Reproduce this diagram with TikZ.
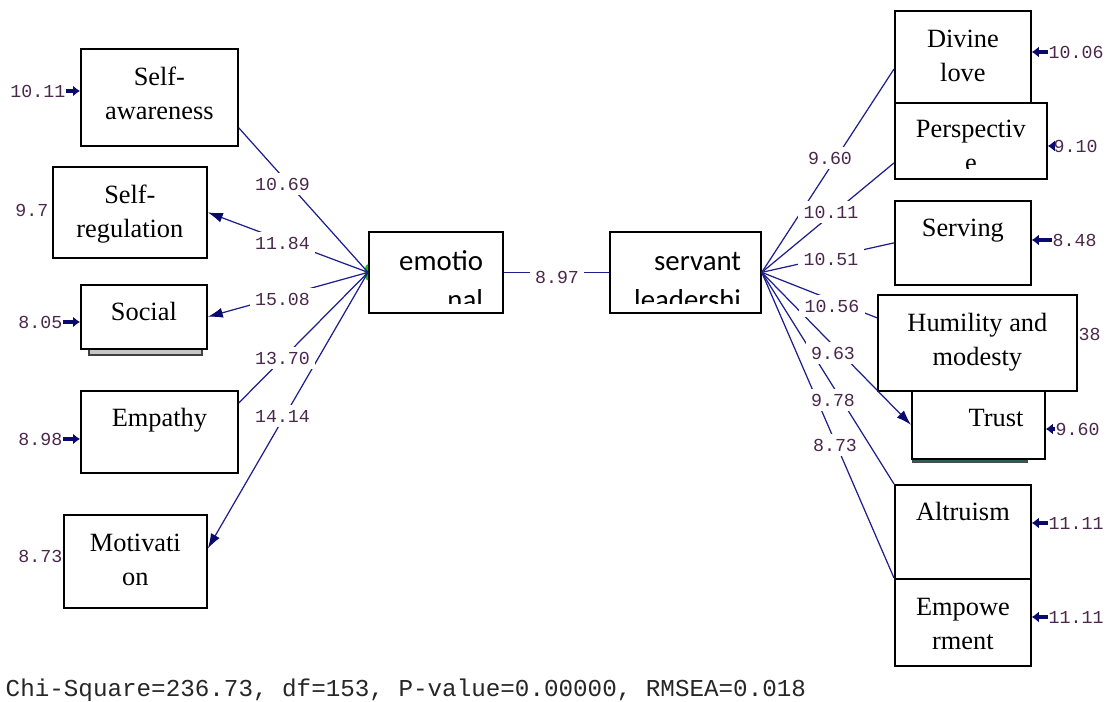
\documentclass[tikz,border=0pt]{standalone}
\usepackage{fontspec}
\setmainfont{Liberation Serif}
\setmonofont{Liberation Mono}
\newfontfamily\calfont{Carlito}
\usetikzlibrary{arrows.meta,calc,positioning}
\definecolor{pathblue}{RGB}{30,30,140}
\definecolor{tipblue}{RGB}{10,10,110}
\definecolor{valcol}{RGB}{75,40,75}
\definecolor{trustshadow}{RGB}{40,100,100}
\tikzset{
 obs/.style={draw,line width=.5pt,fill=white,rectangle,inner sep=0pt,anchor=north west},
 txt/.style={font=\fontsize{7.5pt}{9.8pt}\selectfont,align=center,inner sep=0pt,anchor=base},
 lat/.style={font=\calfont\fontsize{8.2pt}{11.2pt}\selectfont,align=right,inner sep=0pt,anchor=base east},
 val/.style={font=\ttfamily\fontsize{5.2pt}{6pt}\selectfont,text=valcol,fill=white,inner sep=1.5pt},
 evar/.style={font=\ttfamily\fontsize{5.2pt}{6pt}\selectfont,text=valcol,inner sep=0pt},
 load/.style={draw=pathblue,line width=.35pt},
 loadarr/.style={load,-{Latex[length=1.5mm,width=1mm,color=tipblue]}},
 err/.style={draw=tipblue,line width=.9pt,-{Latex[length=.7mm,width=1.1mm]}}
}
\begin{document}
\begin{tikzpicture}
\useasboundingbox(0,0)rectangle(11.11,7.02);
%shadows
\draw[fill=gray!45,draw=darkgray](0.89,3.54)rectangle(2.02,3.47);
\draw[fill=trustshadow,draw=black!70](9.13,2.44)rectangle(10.27,2.40);
%left indicators
\node[obs,minimum width=1.57cm,minimum height=.97cm](sa)at(0.80,6.54){};
\node[txt](sa-t)at($(sa.north)+(0,-.715)$){Self-\\awareness};
\node[obs,minimum width=1.54cm,minimum height=.91cm](sr)at(0.52,5.36){};
\node[txt](sr-t)at($(sr.north)+(0,-.715)$){Self-\\regulation};
\node[obs,minimum width=1.26cm,minimum height=.64cm](so)at(0.80,4.18){};
\node[txt](so-t)at($(so.north)+(0,-.37)$){Social};
\node[obs,minimum width=1.57cm,minimum height=.82cm](em)at(0.80,3.12){};
\node[txt](em-t)at($(em.north)+(0,-.37)$){Empathy};
\node[obs,minimum width=1.43cm,minimum height=.93cm](mo)at(0.63,1.88){};
\node[txt](mo-t)at($(mo.north)+(0,-.715)$){Motivati\\on};
%latent variables
\node[obs,minimum width=1.34cm,minimum height=.81cm](emo)at(3.68,4.71){};
\begin{scope}
\clip(emo.north west)rectangle($(emo.south east)+(0,.10)$);
\node[lat](emo-t)at($(emo.north east)+(-.20,-.785)$){emotio\\nal};
\end{scope}
\fill[green!80!black](emo.west)++(0,.08)arc(90:270:.035 and .08)--cycle;
\node[obs,minimum width=1.51cm,minimum height=.81cm](sl)at(6.09,4.71){};
\begin{scope}
\clip(sl.north west)rectangle($(sl.south east)+(0,.10)$);
\node[lat](sl-t)at($(sl.north east)+(-.20,-.785)$){servant\\leadershi};
\end{scope}
%right indicators
\node[obs,minimum width=1.36cm,minimum height=.92cm](dl)at(8.94,6.92){};
\node[txt](dl-t)at($(dl.north)+(0,-.715)$){Divine\\love};
\node[obs,minimum width=1.52cm,minimum height=.76cm](pe)at(8.94,6.00){};
\begin{scope}
\clip(pe.north west)rectangle($(pe.south east)+(0,.11)$);
\node[txt](pe-t)at($(pe.north)+(0,-.70)$){Perspectiv\\e};
\end{scope}
\node[obs,minimum width=1.36cm,minimum height=.84cm](sv)at(8.94,5.02){};
\node[txt](sv-t)at($(sv.north)+(0,-.37)$){Serving};
\node[obs,minimum width=1.99cm,minimum height=.96cm](hm)at(8.77,4.08){};
\node[txt](hm-t)at($(hm.north)+(0,-.715)$){Humility and\\modesty};
\node[obs,minimum width=1.33cm,minimum height=.68cm](tr)at(9.11,3.12){};
\node[txt](tr-t)at(9.96,2.75){Trust};
\node[obs,minimum width=1.36cm,minimum height=.94cm](al)at(8.94,2.18){};
\node[txt](al-t)at($(al.north)+(0,-.37)$){Altruism};
\node[obs,minimum width=1.36cm,minimum height=.87cm](ep)at(8.94,1.24){};
\node[txt](ep-t)at($(ep.north)+(0,-.715)$){Empowe\\rment};
%loadings
\draw[load](emo.west)--(sa.-21);
\draw[loadarr](emo.west)--(sr.east);
\draw[loadarr](emo.west)--(so.east);
\draw[load](emo.west)--(em.20);
\draw[loadarr](emo.west)--(mo.10);
\draw[load](emo.east)--(sl.west);
\draw[load](sl.east)--(dl.190);
\draw[load](sl.east)--(pe.196);
\draw[load](sl.east)--(sv.west);
\draw[load](sl.east)--(hm.166);
\draw[loadarr](sl.east)--(tr.west);
\draw[load](sl.east)--(al.north west);
\draw[load](sl.east)--(ep.north west);
%values
\node[val](v-sa)at(2.825,5.18){10.69};
\node[val](v-sr)at(2.825,4.59){11.84};
\node[val](v-so)at(2.825,4.03){15.08};
\node[val](v-em)at(2.825,3.44){13.70};
\node[val](v-mo)at(2.825,2.86){14.14};
\node[val](v-sl)at(5.57,4.25){8.97};
\node[val](v-dl)at(8.30,5.44){9.60};
\node[val](v-pe)at(8.31,4.90){10.11};
\node[val](v-sv)at(8.31,4.43){10.51};
\node[val](v-hm)at(8.32,3.96){10.56};
\node[val](v-tr)at(8.33,3.49){9.63};
\node[val](v-al)at(8.33,3.02){9.78};
\node[val](v-ep)at(8.35,2.57){8.73};
%error variances
\node[evar,anchor=east](e-sa)at(0.66,6.11){10.11};
\node[evar,anchor=east](e-sr)at(0.49,4.92){9.7};
\node[evar,anchor=east](e-so)at(0.63,3.80){8.05};
\node[evar,anchor=east](e-em)at(0.63,2.63){8.98};
\node[evar,anchor=east](e-mo)at(0.63,1.46){8.73};
\draw[err](e-sa.east)--(e-sa.east-|sa.west);
\draw[err](e-so.east)--(e-so.east-|so.west);
\draw[err](e-em.east)--(e-em.east-|em.west);
\node[evar,anchor=west](e-dl)at(10.48,6.50){10.06};
\node[evar,anchor=west](e-pe)at(10.53,5.56){9.10};
\node[evar,anchor=west](e-sv)at(10.52,4.62){8.48};
\node[evar,anchor=west](e-hm)at(10.78,3.68){38};
\node[evar,anchor=west](e-tr)at(10.55,2.73){9.60};
\node[evar,anchor=west](e-al)at(10.48,1.79){11.11};
\node[evar,anchor=west](e-ep)at(10.48,0.85){11.11};
\draw[err](e-dl.west)--(e-dl.west-|dl.east);
\draw[err](e-pe.west)--(e-pe.west-|pe.east);
\draw[err](e-sv.west)--(e-sv.west-|sv.east);
\draw[err](e-tr.west)--(e-tr.west-|tr.east);
\draw[err](e-al.west)--(e-al.west-|al.east);
\draw[err](e-ep.west)--(e-ep.west-|ep.east);
%fit statistics
\node[font=\ttfamily\fontsize{6.9pt}{8pt}\selectfont,text=black!85,anchor=base west,inner sep=0pt](fit)at(0.05,0.05){Chi-Square=236.73, df=153, P-value=0.00000, RMSEA=0.018};
\end{tikzpicture}
\end{document}
